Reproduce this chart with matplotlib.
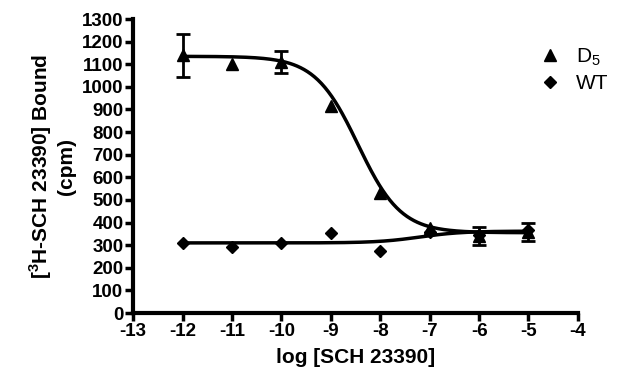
import numpy as np
import matplotlib
matplotlib.use("Agg")
import matplotlib.pyplot as plt

plt.rcParams["font.family"] = ["Liberation Sans", "DejaVu Sans"]
plt.rcParams["axes.unicode_minus"] = False
plt.rcParams["mathtext.fontset"] = "custom"
plt.rcParams["mathtext.rm"] = "Liberation Sans"
plt.rcParams["mathtext.bf"] = "Liberation Sans:bold"

# measured points
log_conc = [-12, -11, -10, -9, -8, -7, -6, -5]
d5_bound = [1140, 1100, 1110, 915, 530, 375, 340, 360]
d5_err = [95, 0, 50, 0, 0, 0, 40, 40]
wt_bound = [310, 290, 310, 355, 275, 360, 345, 365]

# sigmoid fit parameters (bottom, top, logEC50, hill)
d5_fit = (355, 1135, -8.45, -1.0)
wt_fit = (310, 362, -7.2, 1.0)


def sigmoid(x, bottom, top, logec50, hill):
    return bottom + (top - bottom) / (1 + 10 ** ((logec50 - x) * hill))


xs = np.linspace(-12, -5, 300)

fig = plt.figure(figsize=(6.4, 3.92), dpi=100)
ax = fig.add_axes([0.208, 0.2015, 0.695, 0.75])

ax.plot(xs, sigmoid(xs, *d5_fit), color="black", lw=2.5)
ax.plot(xs, sigmoid(xs, *wt_fit), color="black", lw=2.5)

# only the points that have visible error bars
eb = [i for i, e in enumerate(d5_err) if e > 0]
ax.errorbar([log_conc[i] for i in eb], [d5_bound[i] for i in eb],
            yerr=[d5_err[i] for i in eb], fmt="none", ecolor="black",
            capsize=5, elinewidth=2, capthick=2)
ax.plot(log_conc, d5_bound, "^", color="black", ms=8, ls="none", label="D$_\\mathrm{5}$")
ax.plot(log_conc, wt_bound, "D", color="black", ms=6, ls="none", label="WT")

ax.set_xlim(-13, -4)
ax.set_ylim(0, 1300)
ax.set_xticks(range(-13, -3))
ax.set_yticks(range(0, 1301, 100))
for s in ["top", "right"]:
    ax.spines[s].set_visible(False)
for s in ["left", "bottom"]:
    ax.spines[s].set_linewidth(3)
ax.tick_params(width=2.5, length=6, labelsize=13.5, pad=1)
for lab in ax.get_xticklabels() + ax.get_yticklabels():
    lab.set_fontweight("bold")

ax.set_xlabel("log [SCH 23390]", fontsize=15, fontweight="bold", labelpad=6)
ax.set_ylabel("[$^\\mathbf{3}$H-SCH 23390] Bound\n(cpm)", fontsize=15,
              fontweight="bold", labelpad=4)

leg = ax.legend(loc="upper right", bbox_to_anchor=(1.11, 0.97), frameon=False,
                fontsize=15, handletextpad=0.5, labelspacing=0.3, handlelength=1.5)

fig.savefig("out.png", dpi=100)
